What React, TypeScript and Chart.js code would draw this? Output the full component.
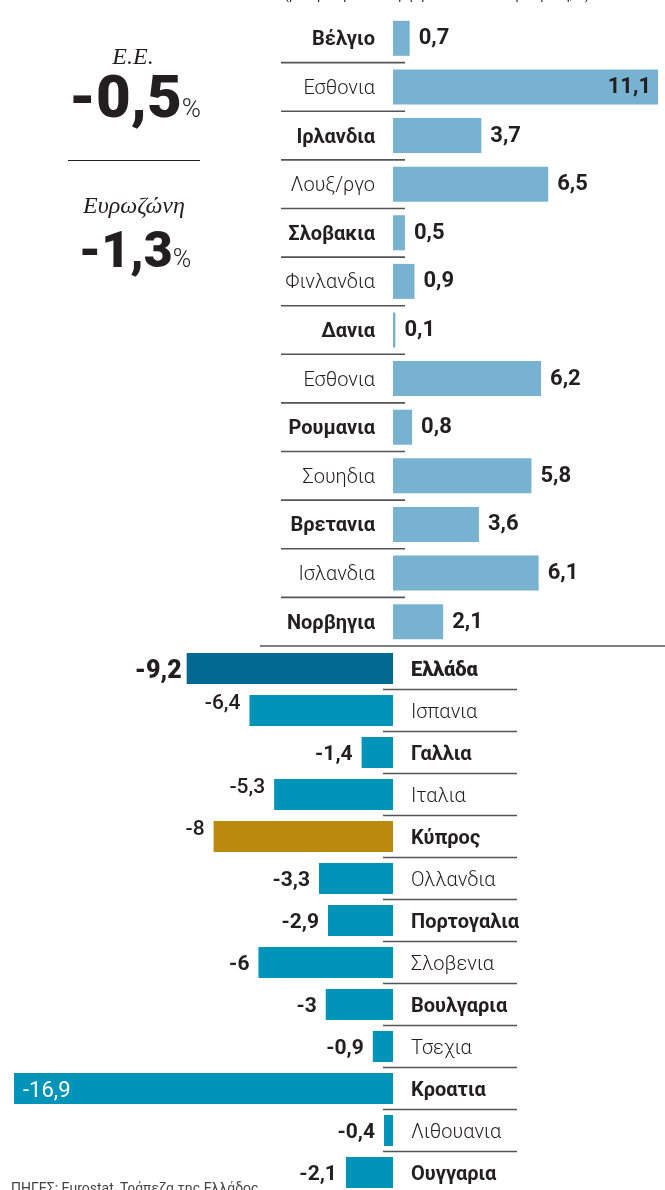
import React, { useEffect, useRef } from "react";
import { Chart, registerables } from "chart.js";

Chart.register(...registerables);

// ---- Data ----
const topCountries = [
  "Βέλγιο", "Εσθονια", "Ιρλανδια", "Λουξ/ργο", "Σλοβακια", "Φινλανδια", "Δανια",
  "Εσθονια", "Ρουμανια", "Σουηδια", "Βρετανια", "Ισλανδια", "Νορβηγια",
];
const topValues = [0.7, 11.1, 3.7, 6.5, 0.5, 0.9, 0.1, 6.2, 0.8, 5.8, 3.6, 6.1, 2.1];

const bottomCountries = [
  "Ελλάδα", "Ισπανια", "Γαλλια", "Ιταλια", "Κύπρος", "Ολλανδια", "Πορτογαλια",
  "Σλοβενια", "Βουλγαρια", "Τσεχια", "Κροατια", "Λιθουανια", "Ουγγαρια",
];
const bottomValues = [-9.2, -6.4, -1.4, -5.3, -8, -3.3, -2.9, -6, -3, -0.9, -16.9, -0.4, -2.1];

const euLabel = "Ε.Ε.";
const euValue = "-0,5";
const ezLabel = "Ευρωζώνη";
const ezValue = "-1,3";
const sourceText = "ΠΗΓΕΣ: Eurostat, Τράπεζα της Ελλάδος";
const titleText = "(μεταβολή ΑΕΠ α΄ τριμήνου 2020 σε ετήσια βάση, %)";

// style-only lists
const raisedLabels = ["Ισπανια", "Ιταλια", "Κύπρος"];

const TEXT = "#231f20";
const LINE = "#555555";
const TOP_BAR = "#77b3d0";
const BOT_BAR = "#0094b9";
const GREECE = "#00698f";
const CYPRUS = "#b98a0e";
const SANS = "Roboto, 'Noto Sans', sans-serif";
const SERIF = "'Liberation Serif', 'DejaVu Serif', serif";

const fmt = (v: number) => String(v).replace(".", ",");

const topPlugin = {
  id: "topDeco",
  beforeDatasetsDraw(chart: any) {
    const ctx = chart.ctx;
    const y = chart.scales.y;
    const pitch = y.getPixelForValue(1) - y.getPixelForValue(0);
    ctx.save();
    ctx.strokeStyle = LINE;
    ctx.lineWidth = 1.6;
    for (let i = 0; i < topCountries.length; i++) {
      const yy = y.getPixelForValue(i) + pitch / 2;
      ctx.beginPath();
      if (i < topCountries.length - 1) {
        ctx.moveTo(281, yy);
        ctx.lineTo(405, yy);
      } else {
        ctx.moveTo(260, yy);
        ctx.lineTo(665, yy);
      }
      ctx.stroke();
    }
    ctx.restore();
  },
  afterDatasetsDraw(chart: any) {
    const ctx = chart.ctx;
    const y = chart.scales.y;
    const meta = chart.getDatasetMeta(0);
    const maxV = Math.max(...topValues);
    ctx.save();
    ctx.fillStyle = TEXT;
    ctx.textBaseline = "alphabetic";
    topCountries.forEach((c, i) => {
      const cy = y.getPixelForValue(i);
      ctx.font = `${i % 2 === 0 ? 700 : 300} 20px ${SANS}`;
      ctx.textAlign = "right";
      ctx.fillText(c, 375, cy + 7);
      const bar = meta.data[i];
      ctx.font = `700 22px ${SANS}`;
      if (topValues[i] === maxV) {
        ctx.textAlign = "right";
        ctx.fillText(fmt(topValues[i]), bar.x - 7, cy + 6);
      } else {
        ctx.textAlign = "left";
        ctx.fillText(fmt(topValues[i]), bar.x + 9, cy + 6);
      }
    });
    ctx.restore();
  },
  afterDraw(chart: any) {
    const ctx = chart.ctx;
    ctx.save();
    ctx.fillStyle = TEXT;
    // title (cut at top edge)
    ctx.textAlign = "center";
    ctx.font = `400 15px ${SANS}`;
    ctx.fillText(titleText, 437, -1, 305);
    // left panel
    ctx.font = `italic 24px ${SERIF}`;
    ctx.fillText(euLabel, 133, 64);
    ctx.fillText(ezLabel, 134, 213);
    const drawBig = (val: string, size: number, pct: number, cx: number, base: number) => {
      ctx.font = `900 ${size}px ${SANS}`;
      const w1 = ctx.measureText(val).width;
      ctx.font = `300 ${pct}px ${SANS}`;
      const w2 = ctx.measureText("%").width;
      const x0 = cx - (w1 + w2) / 2;
      ctx.textAlign = "left";
      ctx.font = `900 ${size}px ${SANS}`;
      ctx.fillText(val, x0, base);
      ctx.font = `300 ${pct}px ${SANS}`;
      ctx.fillText("%", x0 + w1, base);
      ctx.textAlign = "center";
    };
    drawBig(euValue, 60, 26, 135, 117);
    drawBig(ezValue, 50, 25, 135, 267);
    ctx.strokeStyle = TEXT;
    ctx.lineWidth = 1;
    ctx.beginPath();
    ctx.moveTo(68, 160.5);
    ctx.lineTo(200, 160.5);
    ctx.stroke();
    ctx.restore();
  },
};

const bottomPlugin = {
  id: "bottomDeco",
  beforeDatasetsDraw(chart: any) {
    const ctx = chart.ctx;
    const y = chart.scales.y;
    const pitch = y.getPixelForValue(1) - y.getPixelForValue(0);
    ctx.save();
    ctx.strokeStyle = LINE;
    ctx.lineWidth = 1.6;
    for (let i = 0; i < bottomCountries.length; i++) {
      const yy = y.getPixelForValue(i) + pitch / 2;
      ctx.beginPath();
      ctx.moveTo(383, yy);
      ctx.lineTo(517, yy);
      ctx.stroke();
    }
    ctx.restore();
  },
  afterDatasetsDraw(chart: any) {
    const ctx = chart.ctx;
    const y = chart.scales.y;
    const meta = chart.getDatasetMeta(0);
    const minV = Math.min(...bottomValues);
    ctx.save();
    ctx.textBaseline = "alphabetic";
    bottomCountries.forEach((c, i) => {
      const cy = y.getPixelForValue(i);
      const bar = meta.data[i];
      ctx.fillStyle = TEXT;
      const w = i === 0 ? 900 : i % 2 === 0 ? 700 : 300;
      ctx.font = `${w} 20px ${SANS}`;
      ctx.textAlign = "left";
      ctx.fillText(c, 411, cy + 7);
      const v = bottomValues[i];
      if (v === minV) {
        ctx.fillStyle = "#ffffff";
        ctx.font = `400 22px ${SANS}`;
        ctx.textAlign = "left";
        ctx.fillText(fmt(v), bar.x + 9, cy + 8);
      } else {
        ctx.textAlign = "right";
        if (i === 0) {
          ctx.font = `900 25px ${SANS}`;
          ctx.fillText(fmt(v), bar.x - 5, cy + 9);
        } else if (raisedLabels.includes(c)) {
          ctx.font = `500 21px ${SANS}`;
          ctx.fillText(fmt(v), bar.x - 9, cy - 15.5 + 14);
        } else {
          ctx.font = `700 21px ${SANS}`;
          ctx.fillText(fmt(v), bar.x - 9, cy + 7.5);
        }
      }
    });
    // source line (cut at bottom edge)
    ctx.fillStyle = "#444444";
    ctx.font = `400 14px ${SANS}`;
    ctx.textAlign = "left";
    ctx.fillText(sourceText, 11, 548);
    ctx.restore();
  },
};

export default function App() {
  const topRef = useRef<HTMLCanvasElement | null>(null);
  const botRef = useRef<HTMLCanvasElement | null>(null);

  useEffect(() => {
    document.body.style.margin = "0";
    document.documentElement.style.overflow = "hidden";
    const top = new Chart(topRef.current as HTMLCanvasElement, {
      type: "bar",
      data: {
        labels: topCountries,
        datasets: [
          {
            data: topValues,
            backgroundColor: TOP_BAR,
            borderWidth: 0,
            barPercentage: 35 / 48.6,
            categoryPercentage: 1,
          },
        ],
      },
      options: {
        indexAxis: "y",
        responsive: false,
        animation: false,
        layout: { padding: { left: 393, right: 7, top: 14, bottom: 4 } },
        plugins: { legend: { display: false }, tooltip: { enabled: false } },
        scales: {
          x: { display: false, min: 0, max: 11.1 },
          y: { display: false },
        },
      },
      plugins: [topPlugin],
    } as any);

    const bot = new Chart(botRef.current as HTMLCanvasElement, {
      type: "bar",
      data: {
        labels: bottomCountries,
        datasets: [
          {
            data: bottomValues,
            backgroundColor: bottomCountries.map((c) =>
              c === "Ελλάδα" ? GREECE : c === "Κύπρος" ? CYPRUS : BOT_BAR
            ),
            borderWidth: 0,
            barPercentage: 31 / 42,
            categoryPercentage: 1,
          },
        ],
      },
      options: {
        indexAxis: "y",
        responsive: false,
        animation: false,
        layout: { padding: { left: 14, right: 272, top: 2.5, bottom: 1.5 } },
        plugins: { legend: { display: false }, tooltip: { enabled: false } },
        scales: {
          x: { display: false, min: -16.9, max: 0 },
          y: { display: false },
        },
      },
      plugins: [bottomPlugin],
    } as any);

    return () => {
      top.destroy();
      bot.destroy();
    };
  }, []);

  return (
    <div
      style={{
        position: "relative",
        width: 665,
        height: 1190,
        overflow: "hidden",
        background: "#ffffff",
      }}
    >
      <canvas
        ref={topRef}
        width={665}
        height={650}
        style={{ position: "absolute", left: 0, top: 0, width: 665, height: 650 }}
      />
      <canvas
        ref={botRef}
        width={665}
        height={550}
        style={{ position: "absolute", left: 0, top: 645, width: 665, height: 550 }}
      />
    </div>
  );
}
